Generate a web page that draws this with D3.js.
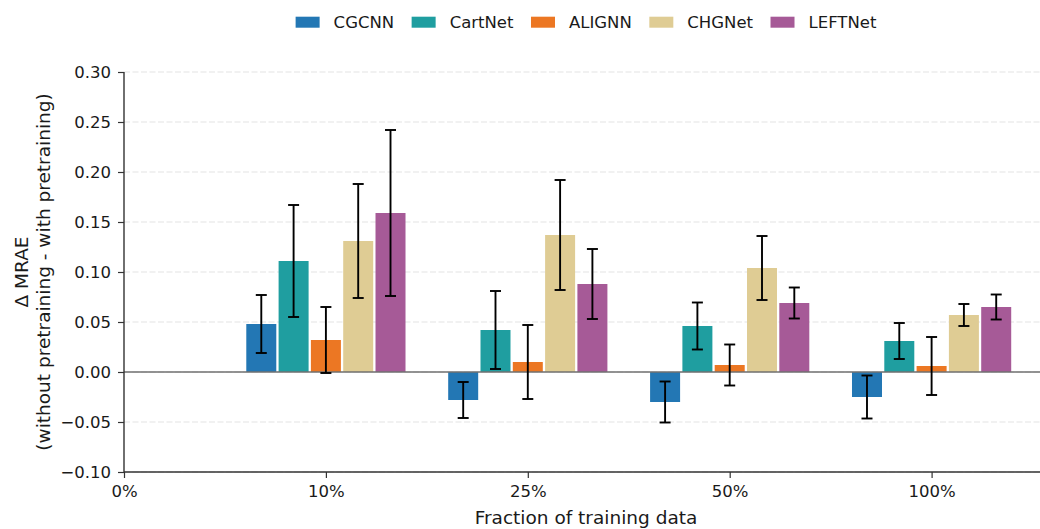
<!DOCTYPE html>
<html>
<head>
<meta charset="utf-8">
<script src="https://cdn.jsdelivr.net/npm/d3@7"></script>
<style>
  html, body { margin: 0; padding: 0; background: #fff; }
  svg { display: block; font-family: "DejaVu Sans", sans-serif; }
</style>
</head>
<body>
<svg id="chart" width="1040" height="529"></svg>
<script>
// Fractions of training data shown on the x axis (0% carries no bars)
const tickLabels = ["0%", "10%", "25%", "50%", "100%"];
const fractions = ["10%", "25%", "50%", "100%"];
const models = ["CGCNN", "CartNet", "ALIGNN", "CHGNet", "LEFTNet"];
const colors = ["#2377b4", "#1f9ea0", "#ec7723", "#dfcc94", "#a65a97"];

// Mean ΔMRAE per model, one entry per fraction
const cgcnn   = [0.048, -0.028, -0.030, -0.025];
const cartnet = [0.111,  0.042,  0.046,  0.031];
const alignn  = [0.032,  0.010,  0.007,  0.006];
const chgnet  = [0.131,  0.137,  0.104,  0.057];
const leftnet = [0.159,  0.088,  0.069,  0.065];

// Standard deviation per model, one entry per fraction
const cgcnnErr   = [0.029, 0.018, 0.0205, 0.0215];
const cartnetErr = [0.056, 0.039, 0.0235, 0.018];
const alignnErr  = [0.033, 0.037, 0.0205, 0.029];
const chgnetErr  = [0.057, 0.055, 0.032,  0.011];
const leftnetErr = [0.083, 0.035, 0.0155, 0.0125];

const yTicks = [-0.10, -0.05, 0.00, 0.05, 0.10, 0.15, 0.20, 0.25, 0.30];

const seriesValues = [cgcnn, cartnet, alignn, chgnet, leftnet];
const seriesErrors = [cgcnnErr, cartnetErr, alignnErr, chgnetErr, leftnetErr];

const svg = d3.select("#chart");
const plotLeft = 124, plotRight = 1040, plotTop = 72, plotBottom = 472;
const unit = 201.9;

const x = d3.scalePoint().domain(tickLabels).range([plotLeft, plotLeft + 4 * unit]).padding(0);
const y = d3.scaleLinear().domain([-0.10, 0.30]).range([plotBottom, plotTop]);

const step = 0.16 * unit;
const barW = 30;

// horizontal dashed grid
svg.append("g").selectAll("line").data(yTicks).join("line")
  .attr("x1", plotLeft).attr("x2", plotRight)
  .attr("y1", d => y(d)).attr("y2", d => y(d))
  .attr("stroke", "#e3e3e3").attr("stroke-width", 1.1)
  .attr("stroke-dasharray", "6,2.5");

// build flat record list
const records = [];
models.forEach((m, i) => {
  fractions.forEach((f, j) => {
    records.push({ model: m, i, frac: f, v: seriesValues[i][j], e: seriesErrors[i][j] });
  });
});
const cx = d => x(d.frac) + (d.i - 2) * step;

// bars
svg.append("g").selectAll("rect").data(records).join("rect")
  .attr("x", d => cx(d) - barW / 2)
  .attr("width", barW)
  .attr("y", d => y(Math.max(0, d.v)))
  .attr("height", d => Math.abs(y(d.v) - y(0)))
  .attr("fill", d => colors[d.i]);

// zero reference line
svg.append("line")
  .attr("x1", plotLeft).attr("x2", plotRight)
  .attr("y1", y(0)).attr("y2", y(0))
  .attr("stroke", "#707070").attr("stroke-width", 1.5);

// error bars
const eb = svg.append("g").attr("stroke", "#000").attr("stroke-width", 1.9);
records.forEach(d => {
  const c = cx(d), y1 = y(d.v + d.e), y2 = y(d.v - d.e);
  eb.append("line").attr("x1", c).attr("x2", c).attr("y1", y1).attr("y2", y2);
  eb.append("line").attr("x1", c - 5.5).attr("x2", c + 5.5).attr("y1", y1).attr("y2", y1);
  eb.append("line").attr("x1", c - 5.5).attr("x2", c + 5.5).attr("y1", y2).attr("y2", y2);
});

// axes
const yAxis = d3.axisLeft(y).tickValues(yTicks).tickSize(6).tickPadding(7)
  .tickFormat(d => d3.format(".2f")(d).replace("-", "\u2212"));
const gy = svg.append("g").attr("transform", `translate(${plotLeft},0)`).call(yAxis);
gy.select(".domain").attr("d", `M0,${plotTop}V${plotBottom}`).attr("stroke", "#333").attr("stroke-width", 1.4);

const xAxis = d3.axisBottom(x).tickSize(6).tickPadding(7);
const gx = svg.append("g").attr("transform", `translate(0,${plotBottom})`).call(xAxis);
gx.select(".domain").attr("d", `M${plotLeft},0H${plotRight}`).attr("stroke", "#333").attr("stroke-width", 1.4);

[gx, gy].forEach(g => {
  g.selectAll(".tick line").attr("stroke", "#333").attr("stroke-width", 1.2);
  g.selectAll(".tick text").attr("fill", "#1a1a1a")
    .style("font-size", "16.5px").style("font-family", "DejaVu Sans, sans-serif");
});

// axis titles
svg.append("text")
  .attr("x", 586).attr("y", 524)
  .attr("text-anchor", "middle")
  .attr("fill", "#1a1a1a").style("font-size", "18.5px")
  .text("Fraction of training data");

const yl = svg.append("text")
  .attr("transform", "translate(28,272) rotate(-90)")
  .attr("text-anchor", "middle")
  .attr("fill", "#1a1a1a").style("font-size", "18.5px");
yl.append("tspan").attr("x", 0).attr("y", 0).text("\u0394 MRAE");
yl.append("tspan").attr("x", 0).attr("y", 21.5).text("(without pretraining - with pretraining)");

// legend: one row, centred above the plot
const lg = svg.append("g");
let cursor = 0;
models.forEach((m, i) => {
  const item = lg.append("g").attr("transform", `translate(${cursor},0)`);
  item.append("rect").attr("x", 0).attr("y", 16.7).attr("width", 24).attr("height", 11)
    .attr("fill", colors[i]);
  const t = item.append("text").attr("x", 38).attr("y", 27.5)
    .attr("fill", "#1a1a1a").style("font-size", "16.5px").text(m);
  cursor += 38 + t.node().getComputedTextLength() + 17.5;
});
const legendWidth = cursor - 17.5;
lg.attr("transform", `translate(${586 - legendWidth / 2},0)`);
</script>
</body>
</html>
